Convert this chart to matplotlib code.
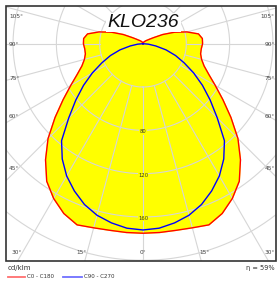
import numpy as np
import matplotlib
matplotlib.use('Agg')
import matplotlib.pyplot as plt
from matplotlib.patches import Rectangle
from matplotlib.lines import Line2D

# luminous intensity distribution (cd/klm), every 5 deg from nadir
angles = np.arange(0, 185, 5)
c0_c180 = [175, 175, 175, 176, 178, 173, 165, 155, 140, 124, 106, 90, 77, 67, 60, 56, 54, 54,
           55, 55, 52, 42, 31, 20, 11, 7, 5, 4, 3, 2.5, 2, 1.5, 1, 0.7, 0.5, 0.2, 0]
c90_c270 = [172, 171, 168, 164, 158, 150, 141, 130, 117, 97, 81, 67, 54, 42, 32, 22, 12, 5,
            0, 0, 0, 0, 0, 0, 0, 0, 0, 0, 0, 0, 0, 0, 0, 0, 0, 0, 0]
rings = [40, 80, 120, 160, 200, 240, 280]
ring_labels = [80, 120, 160]
title = 'KLO236'
efficiency = 'η = 59%'
unit = 'cd/klm'
legend_labels = ['C0 - C180', 'C90 - C270']

W, H = 278, 282
fig = plt.figure(figsize=(W / 100, H / 100), dpi=100)

def px(x, y):
    return x / W, 1 - y / H

# polar axes centred on the lamp, bigger than the frame, clipped to the frame
cx, cy, scale, R = 143, 43.7, 1.083, 300
ax = fig.add_axes([(cx - R) / W, (H - cy - R) / H, 2 * R / W, 2 * R / H], projection='polar')
ax.set_theta_zero_location('S')
rmax = R / scale
ax.set_ylim(0, rmax)
ax.axis('off')

def mirror(vals):
    th = np.deg2rad(np.concatenate([-angles[::-1], angles[1:]]))
    r = np.concatenate([np.array(vals)[::-1], np.array(vals)[1:]])
    return th, r

th_r, r_r = mirror(c0_c180)
th_b, r_b = mirror(c90_c270)

ax.fill(th_r, r_r, color='#ffff00', zorder=1)

# grid: rings and 15 deg rays starting at the first ring
full = np.linspace(0, 2 * np.pi, 721)
for rr in rings:
    ax.plot(full, np.full_like(full, rr), color='#d6d6d6', lw=0.8, zorder=2)
for a in range(0, 360, 15):
    t = np.deg2rad(a)
    ax.plot([t, t], [rings[0], rmax], color='#d6d6d6', lw=0.8, zorder=2)

ax.plot(th_r, r_r, color='#ff0000', lw=1.0, zorder=4)
ax.plot(th_b, r_b, color='#0000ff', lw=1.0, zorder=5)

for v in ring_labels:
    ax.text(0, v + 1.5, str(v), ha='center', va='center', fontsize=3.8, color='#333333',
            zorder=6, bbox=dict(fc='#ffff00', ec='none', pad=0.2))

x0, y0, x1, y1 = 6, 6, 276, 261
frame = Rectangle(px(x0, y1), (x1 - x0) / W, (y1 - y0) / H, transform=fig.transFigure)
for art in ax.lines + ax.patches:
    art.set_clip_path(frame)
fig.add_artist(Rectangle(px(x0, y1), (x1 - x0) / W, (y1 - y0) / H, transform=fig.transFigure,
                         fill=False, edgecolor='#333333', lw=1.2))

# angle labels
lab = dict(fontsize=4.2, color='#444444', va='center')
for txt, y in [('105°', 16), ('90°', 44), ('75°', 78), ('60°', 117), ('45°', 169)]:
    fig.text(*px(9, y), txt, ha='left', **lab)
    fig.text(*px(275, y), txt, ha='right', **lab)
for txt, x in [('30°', 17), ('15°', 82), ('0°', 143), ('15°', 205), ('30°', 270)]:
    fig.text(*px(x, 253), txt, ha='center', **lab)

fig.text(*px(143.5, 27), title, ha='center', va='baseline', fontsize=14, style='italic',
         family=['Liberation Sans', 'DejaVu Sans'], color='#111111',
         bbox=dict(fc='white', ec='none', pad=1.0))

fig.text(*px(8, 268), unit, ha='left', va='center', fontsize=5, color='#333333')
fig.text(*px(275, 268), efficiency, ha='right', va='center', fontsize=4.8, color='#333333')
fig.add_artist(Line2D([8 / W, 25 / W], [1 - 277 / H] * 2, color='#ff6f6f', lw=1.3))
fig.add_artist(Line2D([63 / W, 82 / W], [1 - 277 / H] * 2, color='#6f6fff', lw=1.3))
fig.text(*px(27, 277), legend_labels[0], ha='left', va='center', fontsize=4, color='#333333')
fig.text(*px(84, 277), legend_labels[1], ha='left', va='center', fontsize=4, color='#333333')

fig.savefig('out.png', dpi=100)
